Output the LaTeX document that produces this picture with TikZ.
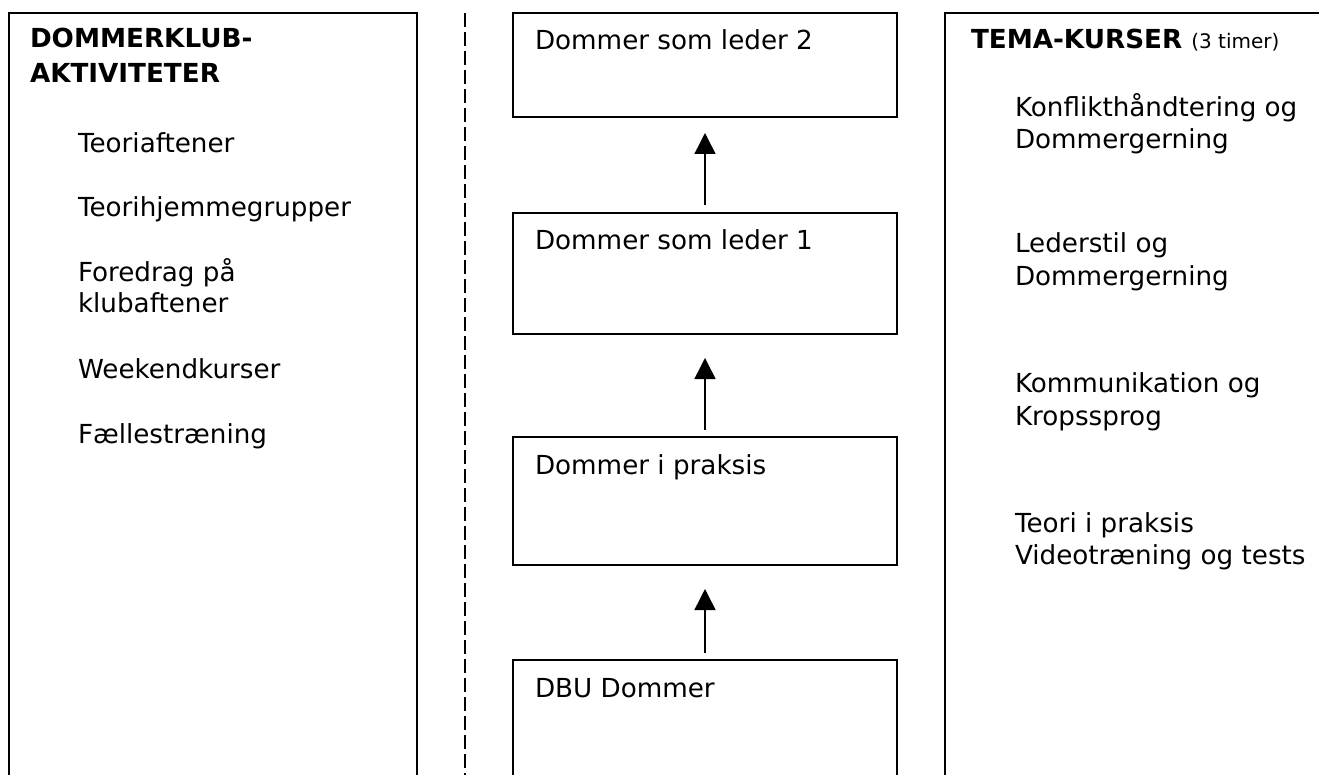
\documentclass[tikz,border=0pt]{standalone}
\usepackage{fontspec}
\setmainfont{DejaVu Sans}
\usetikzlibrary{arrows.meta}
\tikzset{
  frame/.style={draw=black, line width=1.8pt, inner sep=0pt, outer sep=0pt},
  cbox/.style={draw=black, line width=1.6pt, minimum width=384pt, inner sep=0pt, outer sep=0pt},
  txt/.style={anchor=base west, inner sep=0pt, outer sep=0pt, font=\fontsize{26.2}{31}\selectfont},
  hd/.style={txt, font=\fontsize{26.2}{31}\selectfont\bfseries},
  arr/.style={line width=1.5pt, -{Triangle[width=21pt,length=21pt]}},
  sep/.style={line width=1.8pt, dash pattern=on 14pt off 5pt}
}
\begin{document}
\begin{tikzpicture}[x=1pt,y=-1pt]
\useasboundingbox (0,0) rectangle (1319,775);
\clip (0,0) rectangle (1319,775);
% left frame
\node[frame, minimum width=408pt, minimum height=800pt] (lf) at (213,413) {};
\node[hd] (lh1) at (30,48) {DOMMERKLUB-};
\node[hd] (lh2) at (30,83) {AKTIVITETER};
\node[txt] (l1) at (78,153) {Teoriaftener};
\node[txt] (l2) at (78,217) {Teorihjemmegrupper};
\node[txt] (l3a) at (78,282) {Foredrag på};
\node[txt] (l3b) at (78,313) {klubaftener};
\node[txt] (l4) at (78,378) {Weekendkurser};
\node[txt] (l5) at (78,443) {Fællestræning};
% separator
\coordinate (s1) at (465,13);
\coordinate (s2) at (465,790);
\draw[sep] (s1) -- (s2);
% centre boxes
\node[cbox, minimum height=104pt] (b1) at (705,65) {};
\node[cbox, minimum height=121pt] (b2) at (705,273.5) {};
\node[cbox, minimum height=128pt] (b3) at (705,501) {};
\node[cbox, minimum height=160pt] (b4) at (705,740) {};
\node[txt] (t1) at (535,50) {Dommer som leder 2};
\node[txt] (t2) at (535,250) {Dommer som leder 1};
\node[txt] (t3) at (535,474) {Dommer i praksis};
\node[txt] (t4) at (535,697) {DBU Dommer};
\draw[arr, shorten <=8pt, shorten >=16pt] (b2.north) -- (b1.south);
\draw[arr, shorten <=7pt, shorten >=24pt] (b3.north) -- (b2.south);
\draw[arr, shorten <=7pt, shorten >=24pt] (b4.north) -- (b3.south);
% right frame
\node[frame, minimum width=420pt, minimum height=800pt] (rf) at (1155,413) {};
\node[txt] (rh) at (971,49) {\bfseries TEMA-KURSER \fontsize{20}{24}\selectfont\mdseries(3 timer)};
\node[txt] (r1a) at (1015,117) {Konflikthåndtering og};
\node[txt] (r1b) at (1015,149) {Dommergerning};
\node[txt] (r2a) at (1015,253) {Lederstil og};
\node[txt] (r2b) at (1015,286) {Dommergerning};
\node[txt] (r3a) at (1015,392) {Kommunikation og};
\node[txt] (r3b) at (1015,425) {Kropssprog};
\node[txt] (r4a) at (1015,532) {Teori i praksis};
\node[txt] (r4b) at (1015,564) {Videotræning og tests};
\end{tikzpicture}
\end{document}
